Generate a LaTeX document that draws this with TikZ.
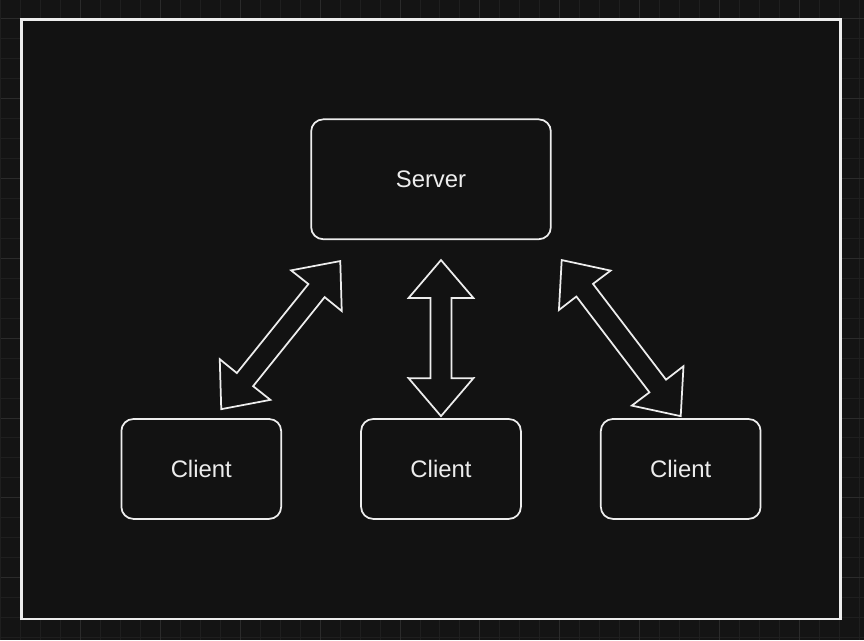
\documentclass[tikz,border=0pt]{standalone}
\usepackage{fontspec}
\setmainfont{Liberation Sans}
\usetikzlibrary{calc,positioning}

\definecolor{canvas}{HTML}{141414}
\definecolor{panel}{HTML}{121212}
\definecolor{gridminor}{HTML}{1F1F1F}
\definecolor{gridmajor}{HTML}{2B2B2B}
\definecolor{ink}{HTML}{EDEDED}

\begin{document}
\begin{tikzpicture}[
  x=0.02cm, y=-0.02cm,
  every node/.style={font=\fontsize{13.6}{16}\selectfont, text=ink},
  sbox/.style={draw=ink, line width=0.035cm, fill=panel, rounded corners=0.24cm,
              minimum width=4.8cm, minimum height=2.4cm, inner sep=0pt},
  cbox/.style={sbox, minimum width=3.2cm, minimum height=2cm},
  blockarrow/.style={draw=ink, line width=0.035cm, line join=miter, to path={
    -- ($(\tikztostart)!28.5pt!40.5:(\tikztotarget)$)
    -- ($(\tikztostart)!22.4pt!15.4:(\tikztotarget)$)
    -- ($(\tikztotarget)!22.4pt!-15.4:(\tikztostart)$)
    -- ($(\tikztotarget)!28.5pt!-40.5:(\tikztostart)$)
    -- (\tikztotarget)
    -- ($(\tikztotarget)!28.5pt!40.5:(\tikztostart)$)
    -- ($(\tikztotarget)!22.4pt!15.4:(\tikztostart)$)
    -- ($(\tikztostart)!22.4pt!-15.4:(\tikztotarget)$)
    -- ($(\tikztostart)!28.5pt!-40.5:(\tikztotarget)$)
    -- cycle}},
]
  % Canvas and grid
  \fill[canvas] (0,0) rectangle (864,640);
  \foreach \gx in {0,20,...,860}
    \draw[gridminor, line width=0.02cm] (\gx,0) -- (\gx,640);
  \foreach \gy in {18,38,...,638}
    \draw[gridminor, line width=0.02cm] (0,\gy) -- (864,\gy);
  \foreach \gx in {80,160,...,800}
    \draw[gridmajor, line width=0.02cm] (\gx,0) -- (\gx,640);
  \foreach \gy in {18,98,...,578}
    \draw[gridmajor, line width=0.02cm] (0,\gy) -- (864,\gy);

  % Frame
  \draw[ink, line width=0.05cm, fill=panel] (21,19) rectangle (841,619);

  % Server and clients
  \node[sbox] (srv) at (431,179) {Server};
  \node[cbox] (cl1) at (201,469) {Client};
  \node[cbox] (cl2) at (441,469) {Client};
  \node[cbox] (cl3) at (681,469) {Client};

  % Arrow ends
  \coordinate (a1) at ([shift={(30,21)}]srv.south west);
  \coordinate (b1) at ([shift={(20,-9)}]cl1.north);
  \coordinate (a2) at ([shift={(10,20)}]srv.south);
  \coordinate (b2) at ([shift={(0,-2)}]cl2.north);
  \coordinate (a3) at ([shift={(10,20)}]srv.south east);
  \coordinate (b3) at ([shift={(0,-2)}]cl3.north);

  % Double block arrows
  \draw[blockarrow] (a1) to (b1);
  \draw[blockarrow] (a2) to (b2);
  \draw[blockarrow] (a3) to (b3);
\end{tikzpicture}
\end{document}
